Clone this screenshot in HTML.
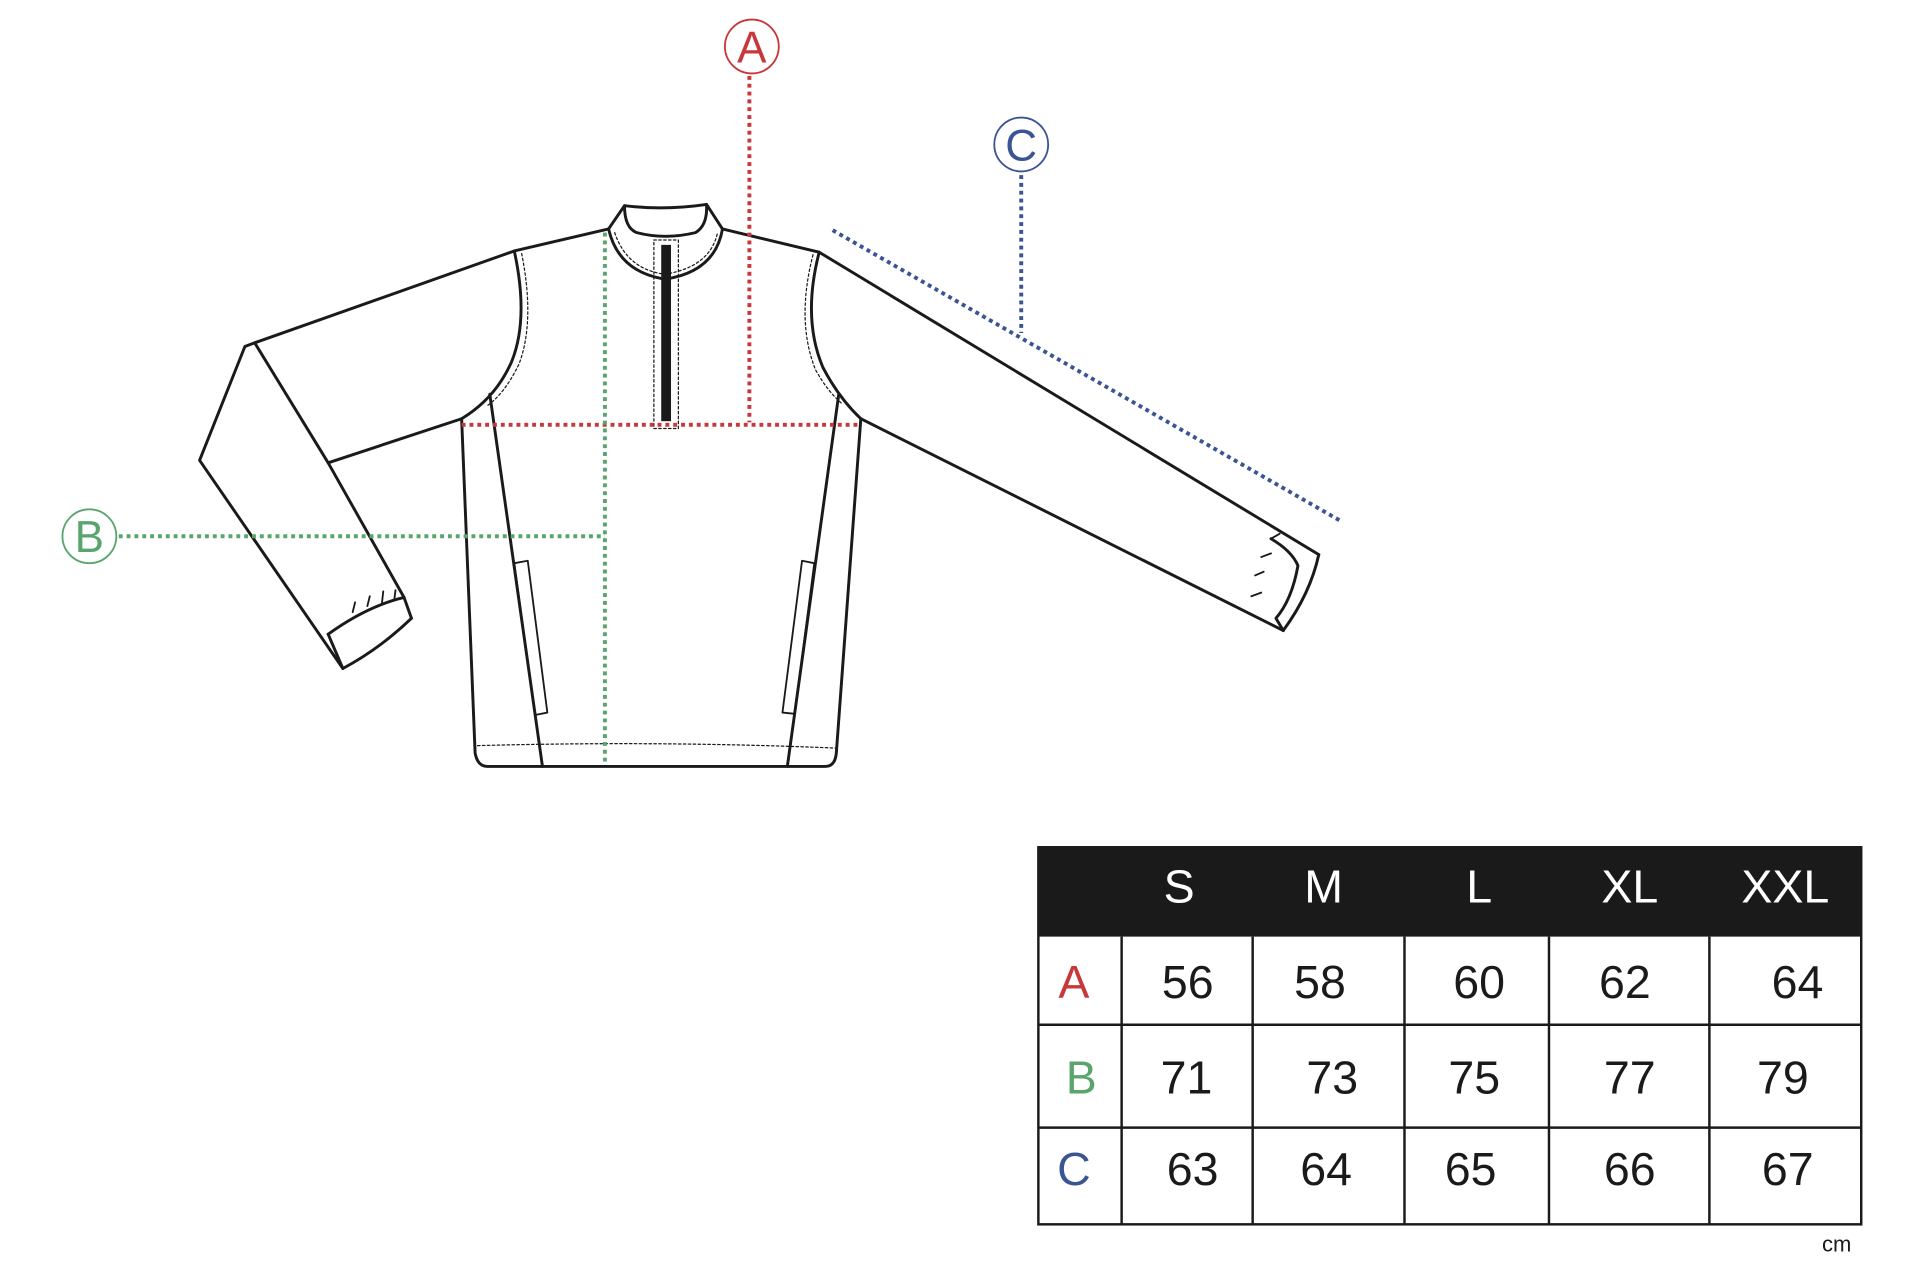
<!DOCTYPE html>
<html><head><meta charset="utf-8"><style>
html,body{margin:0;padding:0;background:#fff;}
svg{display:block;}
</style></head><body>
<svg width="1920" height="1288" viewBox="0 0 1568 1052" preserveAspectRatio="none" xmlns="http://www.w3.org/2000/svg">
<g fill="none" stroke="#1a1a1a" stroke-width="2.4" stroke-linejoin="round" stroke-linecap="round">
<!-- collar -->
<path d="M497,187 L510,168 Q543,172 577,167 L590,187"/>
<path d="M510,168 Q510,186 520,190 Q543,196 568,190 Q578,184 577,167"/>
<path d="M497,187 Q505,222 543,228 Q584,222 590,187"/>
<path d="M502,190 Q512,220 543,224 Q580,218 586,190" stroke-width="1" stroke-dasharray="2,2"/>
<!-- shoulders -->
<path d="M420,205 L497,187"/>
<path d="M590,187 L669,206"/>
<!-- left sleeve -->
<path d="M420,205 L208,280 L200,283 L163,376 L280,546"/>
<path d="M280,546 Q310,530 336,505"/>
<path d="M268,518 Q300,495 330,488 L336,505"/>
<path d="M268,518 L280,546"/>
<path d="M330,488 L268,378 L377,342"/>
<path d="M208,280 L268,378"/>
<path d="M288,500 L290,492 M300,495 L302,487 M312,492 L313,483 M322,490 L323,482" stroke-width="1.5"/>
<!-- left armhole -->
<path d="M420,205 Q432,260 418,295 Q405,325 377,342"/>
<path d="M426,207 Q437,262 424,297 Q412,322 397,332" stroke-width="1" stroke-dasharray="2,2"/>
<!-- body -->
<path d="M377,342 L388,615 Q390,626 398,626 L674,626 Q682,626 683,615 L703,342"/>
<path d="M390,609 Q540,605 682,611" stroke-width="1" stroke-dasharray="2,2"/>
<path d="M400,322 L443,626"/>
<path d="M685,322 L643,626"/>
<!-- right armhole -->
<path d="M669,206 Q655,260 672,300 Q685,325 703,342"/>
<path d="M664,208 Q650,262 666,302 Q676,320 688,330" stroke-width="1" stroke-dasharray="2,2"/>
<!-- right sleeve -->
<path d="M669,206 L1077,453"/>
<path d="M1077,453 Q1070,485 1048,515"/>
<path d="M1038,440 Q1055,450 1060,462 Q1055,490 1042,505 L1048,515"/>
<path d="M1048,515 L703,342"/>
<path d="M1038,440 L1045,436 M1025,470 L1032,467 M1022,487 L1030,484 M1030,455 L1038,452" stroke-width="1.5"/>
<!-- pockets -->
<path d="M420,460 L431,458 L447,582 L437,584 Z" stroke-width="1.5"/>
<path d="M655,458 L665,460 L649,583 L639,582 Z" stroke-width="1.5"/>
<!-- zip -->
<rect x="534" y="196" width="20" height="154" stroke-width="1" stroke-dasharray="2,2"/>
</g>
<rect x="540" y="200" width="8" height="144" fill="#1a1a1a"/>
<!-- measurement lines -->
<g fill="none" stroke-width="3.2" stroke-dasharray="3.2,3.2">
<path d="M612,62 L612,345" stroke="#c8373a"/>
<path d="M377,347 L703,347" stroke="#c8373a"/>
<path d="M97,438 L494,438" stroke="#5aa56e"/>
<path d="M494,190 L494,622" stroke="#5aa56e"/>
<path d="M834,143 L834,272" stroke="#3a5494"/>
<path d="M680,188 L1094,425" stroke="#3a5494"/>
</g>
<g font-family="Liberation Sans, sans-serif" text-anchor="middle">
<circle cx="614" cy="38" r="22" fill="#fff" stroke="#c8373a" stroke-width="1.5"/>
<text x="614" y="51" font-size="36" fill="#c8373a">A</text>
<circle cx="73" cy="438" r="22" fill="#fff" stroke="#5aa56e" stroke-width="1.5"/>
<text x="73" y="451" font-size="36" fill="#5aa56e">B</text>
<circle cx="834" cy="118" r="22" fill="#fff" stroke="#3a5494" stroke-width="1.5"/>
<text x="834" y="131" font-size="36" fill="#3a5494">C</text>
</g>
<!-- table -->
<rect x="848" y="692" width="672" height="73" fill="#1a1a1a"/>
<g stroke="#1a1a1a" stroke-width="2" fill="none">
<rect x="848" y="692" width="672" height="308"/>
<path d="M848,837 H1520 M848,921 H1520 M916,765 V1000 M1023,765 V1000 M1147,765 V1000 M1265,765 V1000 M1396,765 V1000"/>
</g>
<g font-family="Liberation Sans, sans-serif" font-size="38" text-anchor="middle">
<g fill="#fff"><text x="963" y="737">S</text><text x="1081" y="737">M</text><text x="1208" y="737">L</text><text x="1331" y="737">XL</text><text x="1458" y="737">XXL</text></g>
<text x="877" y="815" fill="#c8373a">A</text>
<text x="883" y="893" fill="#5aa56e">B</text>
<text x="877" y="968" fill="#3a5494">C</text>
<g fill="#1a1a1a">
<text x="970" y="815">56</text><text x="1078" y="815">58</text><text x="1208" y="815">60</text><text x="1327" y="815">62</text><text x="1468" y="815">64</text>
<text x="969" y="893">71</text><text x="1088" y="893">73</text><text x="1204" y="893">75</text><text x="1331" y="893">77</text><text x="1456" y="893">79</text>
<text x="974" y="968">63</text><text x="1083" y="968">64</text><text x="1201" y="968">65</text><text x="1331" y="968">66</text><text x="1460" y="968">67</text>
</g>
<text x="1500" y="1022" font-size="18" fill="#1a1a1a">cm</text>
</g>
</svg>
</body></html>
